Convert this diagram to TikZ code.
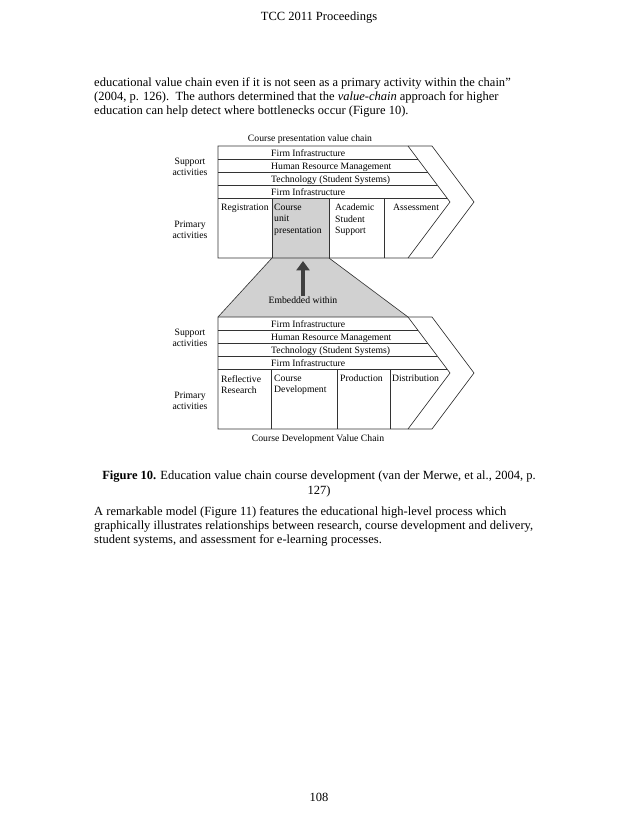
\documentclass[tikz,border=0pt]{standalone}
\usepackage{fontspec}
\setmainfont{Liberation Serif}
\usetikzlibrary{arrows.meta}
\begin{document}
\begin{tikzpicture}[x=0.9592pt, y=-0.9592pt,
  body/.style={font=\fontsize{12}{13.8}\selectfont, inner sep=0pt},
  fig/.style={font=\fontsize{9.3}{10.8}\selectfont, inner sep=0pt},
  cell/.style={fig, anchor=north west, align=left},
  band/.style={fig, anchor=base west},
  side/.style={fig, align=center},
  chain/.style={draw=black!80, line width=0.6pt},
  embarrow/.style={draw=black!75, line width=4.2pt, -{Triangle[length=9pt, width=12.5pt]}}]

\useasboundingbox[fill=white] (0,0) rectangle (638,826);

\def\L{218}   
\def\R{408}   
\def\S{24}    
\def\T{42}    

% page text
\node[body] (head) at (319,18) {TCC 2011 Proceedings};
\node[body, anchor=north west, align=left] (para1) at (94,77)
  {educational value chain even if it is not seen as a primary activity within the chain”\\
   (2004, p. 126).\ \ The authors determined that the \textit{value-chain} approach for higher\\
   education can help detect where bottlenecks occur (Figure 10).};

% grey column and trapezoid
\fill[black!18] (272,198) rectangle (329,258);
\fill[black!18] (272,258) -- (329,258) -- (\R,317) -- (\L,317) -- cycle;
\draw[chain] (272,258) -- (\L,317);
\draw[chain] (329,258) -- (\R,317);

% upper chain
\node[fig] (uptitle) at (310,139) {Course presentation value chain};
\draw[chain] (\L,146) -- (\R,146) -- (\R+\T,202) -- (\R,258) -- (\L,258) -- cycle;
\draw[chain] (\R,146) -- (\R+\S,146) -- (\R+\S+\T,202) -- (\R+\S,258) -- (\R,258);
\foreach \y in {159,172,185,198}
  \draw[chain] (\L,\y) -- ({\R+0.75*(\y-146)},\y);
\foreach \x in {272,329,384}
  \draw[chain] (\x,198) -- (\x,258);

\node[band] (ufirm)  at (271,156)   {Firm Infrastructure};
\node[band] (uhrm)   at (271,169)   {Human Resource Management};
\node[band] (utech)  at (271,182)   {Technology (Student Systems)};
\node[band] (ufirmb) at (271,195)   {Firm Infrastructure};

\node[cell] (ureg)  at (221,204) {Registration};
\node[cell] (ucup)  at (274,204) {Course\\unit\\presentation};
\node[cell] (uacad) at (335,204) {Academic\\Student\\Support};
\node[cell] (uass)  at (393,204) {Assessment};

\node[side] (usup)  at (190,167) {Support\\activities};
\node[side] (uprim) at (190,230) {Primary\\activities};

% embedded arrow
\node[fig] (embed) at (303,300) {Embedded within};
\coordinate (cupbot) at (303,261);
\draw[embarrow] (embed.north) -- (cupbot);

% lower chain
\draw[chain] (\L,317) -- (\R,317) -- (\R+\T,373) -- (\R,429) -- (\L,429) -- cycle;
\draw[chain] (\R,317) -- (\R+\S,317) -- (\R+\S+\T,373) -- (\R+\S,429) -- (\R,429);
\foreach \y in {330,343,356,369}
  \draw[chain] (\L,\y) -- ({\R+0.75*(\y-317)},\y);
\foreach \x in {271,337,390}
  \draw[chain] (\x,369) -- (\x,429);

\node[band] (lfirm)  at (271,327)   {Firm Infrastructure};
\node[band] (lhrm)   at (271,340)   {Human Resource Management};
\node[band] (ltech)  at (271,353)   {Technology (Student Systems)};
\node[band] (lfirmb) at (271,366)   {Firm Infrastructure};

\node[cell] (lref)  at (221,375) {Reflective\\Research};
\node[cell] (ldev)  at (274,375) {Course\\Development};
\node[cell] (lprod) at (340,375) {Production};
\node[cell] (ldist) at (392,375) {Distribution};

\node[side] (lsup)  at (190,338) {Support\\activities};
\node[side] (lprim) at (190,401) {Primary\\activities};

\node[fig] (lotitle) at (318,439) {Course Development Value Chain};

% caption and text
\node[body, align=center, anchor=north] (caption) at (319,471)
  {\textbf{Figure 10.} Education value chain course development (van der Merwe, et al., 2004, p.\\127)};
\node[body, anchor=north west, align=left] (para2) at (94,506)
  {A remarkable model (Figure 11) features the educational high-level process which\\
   graphically illustrates relationships between research, course development and delivery,\\
   student systems, and assessment for e-learning processes.};
\node[body] (pagenum) at (319,797) {108};
\end{tikzpicture}
\end{document}
